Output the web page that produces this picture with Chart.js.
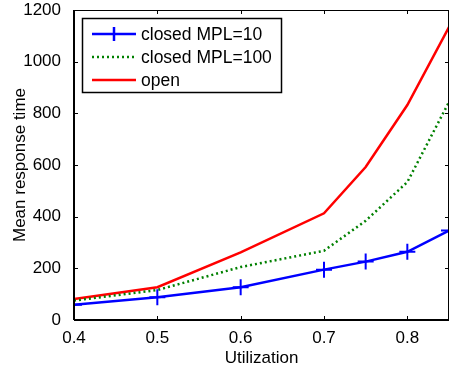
<!DOCTYPE html>
<html>
<head>
<meta charset="utf-8">
<script src="https://cdn.jsdelivr.net/npm/chart.js@4"></script>
<style>
  html, body { margin: 0; padding: 0; background: #fff; }
  #wrap { width: 449px; height: 369px; }
</style>
</head>
<body>
<div id="wrap"><canvas id="chart" width="449" height="369"></canvas></div>
<script>
const utilization = [0.4, 0.5, 0.6, 0.7, 0.75, 0.8, 0.85];
const closed10 = [59, 88, 127, 195, 226, 264, 346];
const closed100 = [75, 116, 205, 268, 384, 534, 844];
const openSys = [81, 127, 262, 413, 592, 832, 1134];
const xTicks = [0.4, 0.5, 0.6, 0.7, 0.8];
const yTicks = [0, 200, 400, 600, 800, 1000, 1200];

const FONT = "'Liberation Sans', Arial, sans-serif";

function pts(ys) {
    return utilization.map((x, i) => ({ x: x, y: ys[i] }));
}

// inward ticks and top/right frame, matlab style
const framePlugin = {
    id: 'frame',
    afterDraw(chart) {
        const ctx = chart.ctx;
        const a = chart.chartArea;
        const xs = chart.scales.x, ys = chart.scales.y;
        ctx.save();
        ctx.strokeStyle = '#000';
        ctx.lineWidth = 1;
        ctx.beginPath();
        ctx.moveTo(a.left, a.top + 0.5);
        ctx.lineTo(a.right, a.top + 0.5);
        ctx.moveTo(a.right - 0.5, a.top);
        ctx.lineTo(a.right - 0.5, a.bottom);
        xTicks.forEach(v => {
            const px = Math.round(xs.getPixelForValue(v)) + 0.5;
            ctx.moveTo(px, a.bottom);
            ctx.lineTo(px, a.bottom - 4);
            ctx.moveTo(px, a.top);
            ctx.lineTo(px, a.top + 4);
        });
        yTicks.forEach(v => {
            const py = Math.round(ys.getPixelForValue(v)) + 0.5;
            ctx.moveTo(a.left, py);
            ctx.lineTo(a.left + 4, py);
            ctx.moveTo(a.right, py);
            ctx.lineTo(a.right - 4, py);
        });
        ctx.stroke();
        ctx.lineWidth = 2;
        ctx.beginPath();
        ctx.moveTo(a.left, a.bottom);
        ctx.lineTo(a.right, a.bottom);
        ctx.moveTo(a.left, a.top);
        ctx.lineTo(a.left, a.bottom);
        ctx.stroke();

        // legend box
        const bx = 82, by = 18, bw = 199, bh = 74;
        ctx.fillStyle = '#fff';
        ctx.fillRect(bx, by, bw, bh);
        ctx.lineWidth = 1.5;
        ctx.strokeStyle = '#000';
        ctx.strokeRect(bx + 0.5, by + 0.5, bw, bh);
        ctx.font = '17.5px ' + FONT;
        ctx.textBaseline = 'middle';
        chart.data.datasets.forEach((ds, i) => {
            const cy = 34 + i * 23;
            ctx.strokeStyle = ds.borderColor;
            ctx.lineWidth = ds.borderWidth;
            ctx.setLineDash(ds.borderDash || []);
            ctx.beginPath();
            ctx.moveTo(92, cy);
            ctx.lineTo(136, cy);
            ctx.stroke();
            ctx.setLineDash([]);
            if (ds.pointStyle === 'cross') {
                ctx.beginPath();
                ctx.moveTo(114, cy - 7);
                ctx.lineTo(114, cy + 7);
                ctx.stroke();
            }
            ctx.fillStyle = '#000';
            ctx.fillText(ds.label, 141, cy + 1);
        });
        ctx.restore();
    }
};

new Chart(document.getElementById('chart'), {
    type: 'line',
    data: {
        datasets: [
            {
                label: 'closed MPL=10',
                data: pts(closed10),
                borderColor: 'rgb(0,0,255)',
                borderWidth: 2.5,
                pointStyle: 'cross',
                pointRadius: 8,
                pointBorderWidth: 2,
                pointBorderColor: 'rgb(0,0,255)',
                tension: 0
            },
            {
                label: 'closed MPL=100',
                data: pts(closed100),
                borderColor: 'rgb(0,128,0)',
                borderWidth: 2.5,
                borderDash: [2, 3],
                pointRadius: 0,
                tension: 0
            },
            {
                label: 'open',
                data: pts(openSys),
                borderColor: 'rgb(255,0,0)',
                borderWidth: 2.5,
                pointRadius: 0,
                tension: 0
            }
        ]
    },
    options: {
        responsive: false,
        animation: false,
        layout: { autoPadding: false, padding: { left: 0, top: 10, right: 0, bottom: 0 } },
        plugins: {
            legend: { display: false },
            tooltip: { enabled: false }
        },
        scales: {
            x: {
                type: 'linear',
                min: 0.4,
                max: 0.85,
                afterBuildTicks: s => { s.ticks = xTicks.map(v => ({ value: v })); },
                afterFit: s => { s.height = 49; s.paddingRight = 0; s.paddingLeft = 0; },
                grid: { display: false },
                border: { display: false },
                ticks: {
                    color: '#000',
                    padding: 0,
                    maxRotation: 0,
                    font: { family: FONT, size: 17 },
                    callback: v => v.toFixed(1)
                },
                title: {
                    display: true,
                    text: 'Utilization',
                    color: '#000',
                    padding: { top: 0, bottom: 0 },
                    font: { family: FONT, size: 17 }
                }
            },
            y: {
                min: 0,
                max: 1200,
                afterBuildTicks: s => { s.ticks = yTicks.map(v => ({ value: v })); },
                afterFit: s => { s.width = 74; s.paddingTop = 0; s.paddingBottom = 0; },
                grid: { display: false },
                border: { display: false },
                ticks: {
                    color: '#000',
                    padding: 5,
                    font: { family: FONT, size: 17 },
                    callback: v => String(v)
                },
                title: {
                    display: true,
                    text: 'Mean response time',
                    color: '#000',
                    padding: { top: 10, bottom: 0 },
                    font: { family: FONT, size: 17 }
                }
            }
        }
    },
    plugins: [framePlugin]
});
</script>
</body>
</html>
